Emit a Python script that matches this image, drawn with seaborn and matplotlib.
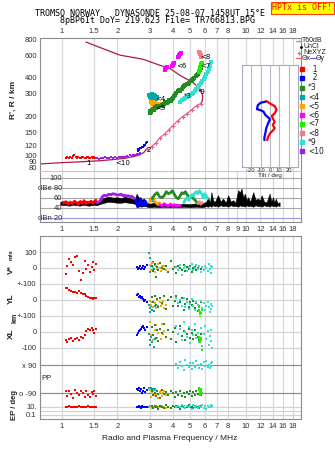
import numpy as np
import matplotlib
matplotlib.use("Agg")
import matplotlib.pyplot as plt
import seaborn as sns
from matplotlib.lines import Line2D
from matplotlib.ticker import NullLocator

# ---------------- data ----------------
freq_ticks_top = [1, 1.5, 2, 3, 4, 5, 6, 7, 8, 10, 12, 14, 16, 18]
freq_ticks_amp = [1, 1.5, 2, 3, 4, 5, 6, 7, 8, 9, 10, 12, 14, 16, 18]
height_ticks = [80, 90, 100, 120, 150, 200, 300, 400, 600, 800]

trace_names = ['1', '2', '*3', '<4', '<5', '<6', '<7', '<8', '*9', '<10']
trace_colors = ['#ff0000', '#0000ff', '#228b22', '#00a8a8', '#ffa500',
                '#ff00ff', '#22ee00', '#f08080', '#30e0d0', '#9a20e8']

# virtual-height traces (MHz, km)
t1_f = [1.05, 1.07, 1.09, 1.11, 1.13, 1.15, 1.17, 1.19, 1.21, 1.23, 1.25, 1.27,
        1.29, 1.31, 1.33, 1.35, 1.37, 1.39, 1.41, 1.43, 1.45, 1.47, 1.49, 1.51]
t1_h = [96, 97, 95, 98, 96, 99, 100, 98, 96, 97, 95, 96, 98, 97, 96, 95, 97, 98,
        96, 95, 97, 96, 98, 96]
t10_f = [1.53, 1.56, 1.6, 1.64, 1.68, 1.72, 1.76, 1.8, 1.85, 1.9, 1.95, 2.0, 2.05,
         2.1, 2.15, 2.2, 2.25, 2.3, 2.35, 2.4, 2.45, 2.5, 2.55, 2.6, 2.65]
t10_h = [95, 96, 94, 95, 96, 97, 95, 96, 97, 96, 97, 96, 98, 97, 98, 97, 99, 98,
         100, 99, 101, 100, 102, 103, 104]
t2_f = [2.58, 2.6, 2.63, 2.66, 2.69, 2.72, 2.75, 2.78, 2.81, 2.84, 2.87, 2.9]
t2_h = [109, 112, 111, 115, 114, 117, 116, 119, 121, 120, 125, 128]
t4_f = [2.98, 3.0, 3.02, 3.04, 3.06, 3.08, 3.1, 3.13, 3.16, 3.2, 3.24, 3.28]
t4_h = [292, 285, 296, 278, 288, 300, 270, 283, 295, 287, 276, 282]
t5_f = [3.04, 3.08, 3.12, 3.16, 3.2, 3.24, 3.28, 3.32, 3.36, 3.4, 3.44, 3.48]
t5_h = [258, 252, 260, 248, 255, 250, 246, 252, 244, 249, 245, 242]
t3_f = [3.0, 3.03, 3.06, 3.1, 3.14, 3.18, 3.22, 3.26, 3.3, 3.35, 3.4, 3.45, 3.5,
        3.55, 3.6, 3.66, 3.72, 3.78, 3.84, 3.9, 3.96, 4.02, 4.08, 4.14, 4.2, 4.27,
        4.34, 4.41, 4.48, 4.55, 4.62, 4.7, 4.78, 4.86, 4.94, 5.02, 5.1, 5.18, 5.26,
        5.34, 5.42, 5.5, 5.56, 5.62, 5.68, 5.74]
t3_h = [212, 222, 218, 226, 230, 224, 236, 232, 240, 236, 244, 240, 248, 244, 252,
        258, 255, 262, 268, 265, 272, 280, 288, 296, 305, 314, 322, 318, 330, 338,
        345, 352, 360, 356, 368, 375, 385, 392, 402, 410, 420, 432, 445, 460, 478, 505]
t6_f = [3.63, 3.66, 3.7, 3.74, 3.96, 4.0, 4.04, 4.08, 4.27, 4.31, 4.35, 4.4, 4.45]
t6_h = [460, 468, 476, 483, 492, 500, 508, 518, 580, 592, 605, 615, 622]
t7_f = [5.55, 5.58, 5.62, 5.66, 5.7, 5.74, 5.78]
t7_h = [442, 455, 468, 482, 496, 510, 525]
t8_f = [5.58, 5.62, 5.66, 5.7, 5.74]
t8_h = [640, 628, 612, 598, 585]
t9_f = [4.4, 4.5, 4.6, 4.7, 4.8, 4.9, 5.0, 5.1, 5.2, 5.3, 5.4, 5.5, 5.6, 5.7, 5.8,
        5.9, 6.0, 6.1, 6.2, 6.3, 6.4, 6.5]
t9_h = [262, 268, 272, 278, 282, 288, 292, 298, 305, 315, 326, 338, 350, 362, 375,
        390, 405, 425, 445, 468, 495, 530]

# true-height profile
prof_low_f = [0.76, 1.0, 1.3, 1.6, 1.9, 2.2, 2.45, 2.65, 2.8, 2.9]
prof_low_h = [86, 88, 89.5, 91, 93, 95, 98, 101, 106, 113]
prof_mid_f = [2.90, 3.08, 3.24, 3.41, 3.63, 3.81, 4.01, 4.27, 4.54, 4.78, 5.09, 5.42, 5.69]
prof_mid_h = [113, 117, 125, 137, 147, 158, 170, 186, 200, 211, 227, 244, 253]
prof_top_f = [5.69, 5.8, 5.83, 5.83, 5.62, 5.15, 4.38, 3.86, 3.41, 2.76, 2.07, 1.35]
prof_top_h = [253, 262, 280, 292, 331, 369, 419, 475, 501, 558, 600, 758]

# trace labels
lab_txt = ['1', '<10', '2', '<4', '<5', '*3', '<6', '<7', '<8', '*9']
lab_f = [1.40, 2.14, 2.97, 3.45, 3.45, 4.83, 4.45, 6.05, 6.05, 5.8]
lab_h = [88, 88, 110, 274, 232, 287, 492, 490, 582, 308]

# amplitude (dB)
unc_f = [0.98, 1.05, 1.1, 1.15, 1.2, 1.25, 1.3, 1.35, 1.4, 1.45, 1.5, 1.55, 1.6, 1.7,
         1.8, 1.9, 2.0, 2.1, 2.2, 2.3, 2.4, 2.5, 2.55, 2.6, 2.7, 2.8, 2.9, 3.0, 3.2,
         3.4, 3.6, 3.8, 4.0, 4.3, 4.6, 5.0, 5.4, 5.8, 6.1, 6.24, 6.4, 6.51, 6.65,
         6.79, 6.93, 7.07, 7.3, 7.53, 7.8, 8.02, 8.3, 8.54, 8.8, 9.1, 9.3, 9.49, 9.7,
         9.9, 10.1, 10.3, 10.6, 11.0, 11.3, 11.7, 12.0, 12.2, 12.6, 13.0, 13.2, 13.5,
         13.8, 14.1, 14.3, 14.6, 14.9, 15.3]
unc_hi = [52, 54, 50, 53, 51, 55, 52, 54, 50, 53, 55, 52, 56, 60, 62, 60, 61, 59, 62,
          60, 58, 57, 68, 62, 56, 58, 50, 48, 50, 47, 49, 46, 48, 46, 48, 47, 49, 48,
          52, 61, 50, 71, 55, 51, 58, 65, 52, 58, 50, 65, 52, 55, 50, 75, 70, 78, 60,
          68, 55, 61, 52, 71, 56, 58, 54, 65, 52, 51, 58, 68, 52, 61, 50, 58, 49, 51]
unc_lo = [46, 45, 44, 46, 45, 44, 46, 45, 44, 45, 46, 45, 47, 50, 52, 51, 50, 50, 51,
          50, 49, 48, 41, 44, 42, 44, 42, 41, 42, 41, 42, 41, 42, 41, 42, 41, 42, 41,
          43, 42, 44, 42, 45, 43, 44, 42, 45, 43, 44, 42, 45, 43, 44, 42, 45, 43, 44,
          42, 45, 43, 44, 42, 45, 43, 44, 42, 45, 43, 44, 42, 45, 43, 44, 42, 45, 43]
a1_f = [1.02, 1.05, 1.08, 1.11, 1.14, 1.17, 1.2, 1.23, 1.26, 1.29, 1.32, 1.35, 1.38,
        1.41, 1.44, 1.47, 1.5, 1.53]
a1_db = [49, 52, 47, 51, 48, 53, 50, 46, 52, 49, 54, 48, 51, 50, 53, 49, 52, 55]
a10_f = [1.55, 1.6, 1.63, 1.66, 1.7, 1.75, 1.8, 1.85, 1.9, 1.95, 2.0, 2.05, 2.1, 2.15,
         2.2, 2.25, 2.3, 2.35, 2.4, 2.45, 2.5]
a10_db = [50, 52, 56, 62, 65, 64, 67, 66, 68, 67, 65, 66, 67, 64, 65, 63, 64, 62, 63, 60, 58]
a2_f = [2.52, 2.56, 2.6, 2.64, 2.68, 2.72, 2.76, 2.8, 2.84, 2.88]
a2_db = [55, 48, 42, 52, 58, 45, 50, 44, 53, 47]
a4_f = [3.02, 3.06, 3.1, 3.14, 3.18]
a4_db = [55, 58, 54, 56, 52]
a5_f = [3.0, 3.05, 3.1, 3.15, 3.2, 3.25, 3.3, 3.35, 3.4]
a5_db = [52, 56, 60, 58, 54, 50, 48, 46, 50]
a6_f = [3.4, 3.5, 3.6, 3.7, 3.8, 3.9, 4.0, 4.1, 4.2, 4.3, 4.4]
a6_db = [46, 44, 48, 45, 43, 47, 44, 46, 43, 45, 44]
a3_f = [3.1, 3.2, 3.3, 3.4, 3.5, 3.6, 3.7, 3.8, 3.9, 4.0, 4.1, 4.2, 4.3, 4.4, 4.5, 4.6,
        4.7, 4.8, 4.9, 5.0, 5.1, 5.2, 5.3, 5.4]
a3_db = [58, 66, 70, 62, 60, 64, 72, 68, 70, 74, 66, 60, 58, 64, 70, 68, 72, 66, 62,
         60, 64, 58, 55, 52]
a8_f = [5.5, 5.6, 5.7, 5.8]
a8_db = [48, 52, 47, 50]
a9_f = [4.6, 4.7, 4.8, 4.9, 5.0, 5.1, 5.2, 5.3, 5.4, 5.5, 5.6, 5.7, 5.8, 5.9, 6.0, 6.1, 6.2]
a9_db = [50, 56, 60, 55, 62, 66, 64, 70, 72, 68, 74, 70, 66, 60, 68, 64, 58]

# tilt inset (deg, km)
tiltx_deg = [-4, 0, 5, 7, 5, 2, 3, 5, 3, 5, 3, 0, -2, -3]
tiltx_h = [344, 337, 329, 318, 308, 300, 293, 283, 274, 264, 257, 249, 239, 229]
tilty_deg = [-5, -10, -13, -14, -11, -7, -5, -2, 0, -2, -4, -5, -6, -6]
tilty_h = [342, 339, 332, 320, 318, 313, 303, 296, 290, 279, 264, 249, 237, 229]

# lower panels: V* (m/s), YL, XL (km), PP (deg), EP (deg)
r_f = [1.05, 1.07, 1.09, 1.12, 1.15, 1.18, 1.21, 1.24, 1.27, 1.3, 1.33, 1.36, 1.39,
       1.42, 1.45, 1.48, 1.5, 1.53]
r_v = [-37, 12, 56, 37, 19, 69, 75, -19, -75, -31, 44, -6, 19, -25, 6, 37, -12, 25]
r_yl = [72, 78, 62, 58, 50, 52, 46, 54, 44, 40, 38, 26, 18, 12, 15, 8, 14, 10]
r_xl = [-48, -60, -42, -38, -55, -44, -36, -50, -32, -40, -20, 4, 18, 10, 24, 12, -4, 20]
r_pp = [-80, -112, -75, -95, -120, -72, -88, -105, -78, -90, -115, -76, -100, -118,
        -82, -95, -74, -108]
r_ep = [12, 9, 14, 11, 8, 13, 10, 15, 9, 12, 11, 8, 14, 10, 13, 9, 12, 10]

b_f = [2.55, 2.6, 2.63, 2.66, 2.7, 2.73, 2.76, 2.8, 2.85, 2.9]
b_v = [4, -6, 2, 10, -4, 0, 12, -8, 6, 18]
b_yl = [34, 40, 20, 26, 12, 18, 6, -4, 2, -10]
b_xl = [-18, -6, 4, 12, 18, 30, 40, 24, 10, 34]
b_pp = [-62, -70, -58, -80, -66, -92, -74, -60, -85, -70]
b_ep = [12, 8, 15, 10, 7, 14, 9, 11, 13, 8]

g_f = [3.1, 3.15, 3.2, 3.25, 3.3, 3.35, 3.4, 3.5, 3.6, 3.7, 3.8, 3.9, 4.0, 4.1, 4.2,
       4.3, 4.4, 4.5, 4.6, 4.7, 4.8, 4.9, 5.0, 5.1, 5.2, 5.3, 5.4, 5.5, 5.6, 5.7]
g_v = [10, -20, 25, -56, 5, -12, 30, 0, -8, 12, -25, 44, -5, 8, -30, 15, 0, -10, 20,
       -18, 6, -4, 12, -22, 3, 8, -12, 0, 14, -6]
g_yl = [20, -10, 28, -30, 5, -45, 12, -20, 25, -55, 0, 18, -35, -8, 22, -40, -15, 10,
        -60, -25, 5, -45, -12, -30, -5, -50, -20, -70, -35, -10]
g_xl = [30, -20, 45, -40, 10, -55, 20, -5, 50, -30, 15, -45, 0, 25, -60, -15, 35, -25,
        5, -50, -10, 20, -35, -5, -45, 10, -20, -30, -55, -10]
g_pp = [-75, -100, -88, -110, -80, -95, -120, -72, -98, -85, -105, -78, -92, -115,
        -82, -100, -76, -108, -90, -118, -84, -96, -74, -112, -86, -102, -80, -94,
        -70, -106]
g_ep = [15, 6, 22, 9, 12, 4, 18, 10, 7, 25, 11, 5, 14, 8, 20, 9, 3, 16, 12, 6, 10, 24,
        8, 13, 5, 17, 9, 11, 7, 14]

tl_f = [2.98, 3.0, 3.03, 3.06, 3.09, 3.12, 3.16, 3.2]
tl_v = [94, 60, -25, 10, -10, 40, -5, 20]
tl_yl = [-31, -50, -75, -40, -60, -45, -70, -35]
tl_xl = [-10, -50, -81, -30, -65, -20, -95, -45]
tl_pp = [-58, -65, -71, -60, -68, -62, -70, -64]
tl_ep = [12, 15, 9, 11, 14, 10, 13, 8]

o_f = [3.0, 3.05, 3.1, 3.15, 3.2, 3.25, 3.3, 3.35, 3.4, 3.45, 3.5, 3.55, 3.6, 3.7]
o_v = [20, -15, 31, 5, -25, 12, -8, 25, 0, -20, 15, -5, 10, -12]
o_yl = [-5, -30, -10, -45, -20, -50, 0, -35, -15, -40, -25, -8, -48, -30]
o_xl = [62, -20, 30, -50, 10, 45, -35, -5, 20, -45, 50, -15, 5, -30]
o_pp = [-72, -115, -90, -80, -105, -70, -95, -120, -85, -75, -110, -88, -78, -100]
o_ep = [10, 14, 7, 12, 9, 16, 11, 8, 13, 10, 15, 9, 12, 7]

l_f = [5.55, 5.58, 5.61, 5.64, 5.67, 5.7, 5.74, 5.78]
l_yl = [-45, -60, -75, -90, -105, -110, -80, -65]
l_xl = [-30, -45, -60, -40, -55, -35, -50, -112]
l_pp = [-58, -70, -85, -95, -103, -75, -65, -90]

c_f = [4.2, 4.3, 4.4, 4.5, 4.6, 4.7, 4.8, 4.9, 5.0, 5.1, 5.2, 5.3, 5.4, 5.5, 5.6, 5.7,
       5.8, 5.9, 6.0, 6.1, 6.2, 6.3, 6.4, 6.45, 6.5, 6.55]
c_v = [5, -10, 20, -44, 0, 12, -20, 8, -5, 25, -15, 3, 18, -8, 10, -25, 6, -12, 15, 0,
       -18, 22, -6, 10, -30, 4]
c_yl = [10, -20, 0, -35, 15, -45, -10, -55, -25, 5, -40, -60, -15, -30, -70, -5, -50,
        -20, -65, -35, -10, -45, -75, -25, -55, -40]
c_xl = [40, -10, 20, -50, 60, 0, -30, 30, -70, 10, -20, 50, -40, -5, -60, 25, -90,
        -15, 35, -45, 5, -80, -25, 15, -55, -100]
c_pp = [95, 70, 110, 85, 60, 120, 90, 75, 105, 65, 100, 80, 115, 88, 72, 98, 62, 108,
        84, 118, 76, 92, 68, 102, 86, 110]
c_ep = [12, 20, 8, 28, 15, 5, 22, 10, 18, 3, 25, 9, 14, 6, 19, 11, 30, 7, 16, 4, 21,
        12, 8, 26, 10, 15]

# ---------------- style ----------------
sns.set_theme(style="white")
plt.rcParams['font.family'] = ['Liberation Sans', 'DejaVu Sans']
plt.rcParams['axes.linewidth'] = 0.8

W, H = 335, 451
fig = plt.figure(figsize=(W / 100, H / 100), dpi=100)
fig.patch.set_facecolor('white')


def fx(x):
    return x / W


def fy(y):
    return 1 - y / H


def fax(left, top, right, bottom):
    return fig.add_axes([left / W, 1 - bottom / H, (right - left) / W, (bottom - top) / H])


FRAME = '#8c8c8c'
VGRID = '#d8d8e0'
TICKC = '#303030'
TFS = 5.5
C = dict(zip(trace_names, trace_colors))
MAROON = '#b0184a'
PINK = '#e8608a'


def freq_axis(ax, ticks, show):
    ax.set_xscale('log')
    ax.set_xlim(0.76, 20)
    ax.set_xticks(ticks)
    ax.set_xticklabels([('%g' % t) if show else '' for t in ticks])
    ax.xaxis.set_minor_locator(NullLocator())
    for t in ticks:
        ax.axvline(t, color=VGRID, lw=0.9, zorder=0)
    ax.tick_params(axis='x', length=0, labelsize=TFS, colors=TICKC, pad=2)
    ax.set_xlabel('')
    ax.set_ylabel('')
    for s in ax.spines.values():
        s.set_color(FRAME)


def scat(ax, x, y, color, s=3.0, z=3):
    sns.scatterplot(x=x, y=y, ax=ax, color=color, marker='s', s=s, linewidth=0,
                    legend=False, zorder=z)


# ---------------- panel 1: heights ----------------
ax_h = fax(40, 38, 301, 171)
ax_h.set_yscale('log')
freq_axis(ax_h, freq_ticks_top, True)
ax_h.xaxis.tick_top()
ax_h.tick_params(axis='x', top=False, labeltop=True, bottom=False, labelbottom=False)
ax_h.set_ylim(75.8, 815)
ax_h.set_yticks(height_ticks)
ax_h.set_yticklabels([str(t) for t in height_ticks])
ax_h.yaxis.set_minor_locator(NullLocator())
ax_h.tick_params(axis='y', length=0, labelsize=TFS, colors=TICKC, pad=2)
ax_h.spines['bottom'].set_visible(False)

sns.lineplot(x=prof_low_f, y=prof_low_h, ax=ax_h, color=MAROON, lw=0.9, sort=False,
             estimator=None, zorder=2)
sns.lineplot(x=prof_top_f, y=prof_top_h, ax=ax_h, color=MAROON, lw=0.9, sort=False,
             estimator=None, zorder=2)
sns.lineplot(x=prof_mid_f, y=prof_mid_h, ax=ax_h, color=PINK, lw=0.9, sort=False,
             estimator=None, marker='+', markersize=3.5, markeredgewidth=0.8,
             markeredgecolor=PINK, zorder=2)

scat(ax_h, t1_f, t1_h, C['1'], s=3.5)
scat(ax_h, t10_f, t10_h, C['<10'], s=3.5)
scat(ax_h, t2_f, t2_h, C['2'], s=4)
scat(ax_h, t4_f, t4_h, C['<4'], s=5)
scat(ax_h, t5_f, t5_h, C['<5'], s=5)
scat(ax_h, t3_f, t3_h, C['*3'], s=9)
scat(ax_h, t9_f, t9_h, C['*9'], s=6)
scat(ax_h, t6_f, t6_h, C['<6'], s=5)
scat(ax_h, t7_f, t7_h, C['<7'], s=7)
scat(ax_h, t8_f, t8_h, C['<8'], s=7)
for t, f, h in zip(lab_txt, lab_f, lab_h):
    ax_h.text(f, h, t, fontsize=5, color='black', ha='center', va='center', zorder=5,
              family='DejaVu Sans')

# ---------------- panel 2: amplitude ----------------
ax_a = fax(40, 171, 301, 222)
freq_axis(ax_a, freq_ticks_amp, True)
ax_a.set_ylim(11.4, 113.4)
ax_a.spines['top'].set_color('#c8c8c8')
for v in [40, 60, 80, 100]:
    ax_a.axhline(v, color='#a8a8a8', lw=0.8, zorder=0)
ax_a.axhline(20, color='#9898e8', lw=0.8, zorder=0)
ax_a.fill_between(unc_f, unc_lo, unc_hi, color='black', lw=0.4, zorder=2)
for f, d, k in [(a1_f, a1_db, '1'), (a10_f, a10_db, '<10'), (a2_f, a2_db, '2'),
                (a4_f, a4_db, '<4'), (a5_f, a5_db, '<5'), (a6_f, a6_db, '<6'),
                (a3_f, a3_db, '*3'), (a8_f, a8_db, '<8'), (a9_f, a9_db, '*9')]:
    sns.lineplot(x=f, y=d, ax=ax_a, color=C[k], lw=2.0, sort=False, estimator=None,
                 zorder=3)
ax_a.set_yticks([20, 40, 60, 80, 100])
ax_a.set_yticklabels(['dBn 20', '40', '60', 'dBe 80', '100'])
ax_a.tick_params(axis='y', direction='in', length=0, pad=-15.8, labelsize=TFS,
                 colors=TICKC)
for lbl in ax_a.get_yticklabels():
    lbl.set_horizontalalignment('right')
    lbl.set_zorder(6)
ax_a.tick_params(axis='x', pad=3)
ax_a.set_xlabel('')
ax_a.set_ylabel('')

# ---------------- lower panels ----------------
ax_v = fax(40, 236, 301, 284)
ax_yl = fax(40, 284, 301, 316)
ax_xl = fax(40, 316, 301, 352)
ax_pp = fax(40, 352, 301, 400)
ax_ep = fax(40, 400, 301, 419)
lower = [ax_v, ax_yl, ax_xl, ax_pp, ax_ep]
for i, ax in enumerate(lower):
    freq_axis(ax, freq_ticks_top, ax is ax_ep)
    ax.set_facecolor('none')
    if i > 0:
        ax.spines['top'].set_visible(False)
    if i < 4:
        ax.spines['bottom'].set_visible(False)
    ax.yaxis.set_minor_locator(NullLocator())
    ax.tick_params(axis='y', length=0, labelsize=TFS, colors=TICKC, pad=2.5)
ax_ep.tick_params(axis='x', pad=3)

LG = '#d2d2d2'
ax_v.set_ylim(-100, 200)
ax_v.set_yticks([100, 0])
ax_v.set_yticklabels(['100', '0'])
ax_yl.set_ylim(-100, 100)
ax_yl.set_yticks([100, 0])
ax_yl.set_yticklabels(['+-100', '0'])
ax_xl.set_ylim(-125, 100)
ax_xl.set_yticks([100, 0, -100])
ax_xl.set_yticklabels(['+-100', '0', '-100'])
ax_pp.set_ylim(-135, 173.6)
ax_pp.set_yticks([90, -90])
ax_pp.set_yticklabels(['x 90', 'o -90'])
ax_ep.set_yscale('log')
ax_ep.set_ylim(0.01, 562)
ax_ep.set_yticks([10, 1, 0.1])
ax_ep.set_yticklabels(['10.', '', '0.1'])
ax_ep.yaxis.set_minor_locator(NullLocator())
for ax, vals in [(ax_v, [100, 0, -100]), (ax_yl, [0, -100]), (ax_xl, [0, -100]),
                 (ax_ep, [10, 1, 0.1])]:
    for v in vals:
        ax.axhline(v, color=LG, lw=0.9, zorder=0, clip_on=False)
for v in [90, -90]:
    ax_pp.axhline(v, color='#909090', lw=0.9, zorder=0)

groups = [
    (r_f, dict(v=r_v, yl=r_yl, xl=r_xl, pp=r_pp, ep=r_ep), C['1']),
    (b_f, dict(v=b_v, yl=b_yl, xl=b_xl, pp=b_pp, ep=b_ep), C['2']),
    (tl_f, dict(v=tl_v, yl=tl_yl, xl=tl_xl, pp=tl_pp, ep=tl_ep), C['<4']),
    (o_f, dict(v=o_v, yl=o_yl, xl=o_xl, pp=o_pp, ep=o_ep), C['<5']),
    (g_f, dict(v=g_v, yl=g_yl, xl=g_xl, pp=g_pp, ep=g_ep), C['*3']),
    (c_f, dict(v=c_v, yl=c_yl, xl=c_xl, pp=c_pp, ep=c_ep), C['*9']),
    (l_f, dict(yl=l_yl, xl=l_xl, pp=l_pp), C['<7']),
]
axmap = dict(v=ax_v, yl=ax_yl, xl=ax_xl, pp=ax_pp, ep=ax_ep)
for f, d, col in groups:
    for key, vals in d.items():
        scat(axmap[key], f, vals, col, s=3)

for ax in lower:
    ax.set_xlabel('')
    ax.set_ylabel('')

# ---------------- tilt inset ----------------
ax_t = fax(242, 65, 298, 167)
ax_t.set_facecolor('white')
ax_t.set_xlim(-30, 30)
ax_t.set_ylim(150, 450)
for v in [-20, -10, 0, 10, 20]:
    ax_t.axvline(v, color='#b8b8c8', lw=0.8, zorder=0)
sns.lineplot(x=tiltx_deg, y=tiltx_h, ax=ax_t, color='#ff0000', lw=1.6, sort=False,
             estimator=None)
sns.lineplot(x=tilty_deg, y=tilty_h, ax=ax_t, color='#0000ff', lw=1.6, sort=False,
             estimator=None)
ax_t.set_xticks([-20, -10, 0, 10, 20])
ax_t.set_xticklabels(['-20', '-10', '0', '10', '20'])
ax_t.set_yticks([])
ax_t.tick_params(axis='x', length=0, labelsize=4.2, pad=1, colors=TICKC)
ax_t.set_xlabel('Tilt / deg', fontsize=4.5, labelpad=0, color=TICKC)
ax_t.set_ylabel('')
for s in ax_t.spines.values():
    s.set_color('#a8a8c0')

# ---------------- texts ----------------
mono = 'DejaVu Sans Mono'
fig.text(fx(150), fy(13), 'TROMSO NORWAY   DYNASONDE 25-08-07 1458UT 15°E',
         ha='center', va='center', family=mono, fontsize=6, color='black')
fig.text(fx(157), fy(20.5), '8pBP6It DoY= 219.623 File= TR766813.BPG',
         ha='center', va='center', family=mono, fontsize=6, color='black')
fig.text(fx(302.5), fy(8), 'HPTx is OFF!', ha='center', va='center', family=mono,
         fontsize=6, color='red',
         bbox=dict(facecolor='yellow', edgecolor='#ff4000', pad=1.2, lw=0.8))

fig.text(fx(13), fy(100), "R', R / km", rotation=90, ha='center', va='center',
         fontsize=6, fontweight='bold', color='#202020')
fig.text(fx(11), fy(270), 'V*', rotation=90, ha='center', va='center', fontsize=6,
         fontweight='bold', color='#202020')
fig.text(fx(11), fy(255), 'm/s', rotation=90, ha='center', va='center', fontsize=4.5,
         fontweight='bold', color='#202020')
fig.text(fx(11), fy(299), 'YL', rotation=90, ha='center', va='center', fontsize=6,
         fontweight='bold', color='#202020')
fig.text(fx(15), fy(318), 'km', rotation=90, ha='center', va='center', fontsize=5,
         fontweight='bold', color='#202020')
fig.text(fx(11), fy(334), 'XL', rotation=90, ha='center', va='center', fontsize=6,
         fontweight='bold', color='#202020')
fig.text(fx(47), fy(379), 'PP', ha='center', va='center', fontsize=5.5,
         color='#202020')
fig.text(fx(14), fy(405), 'EP / deg', rotation=90, ha='center', va='center',
         fontsize=5.5, fontweight='bold', color='#202020')
fig.text(fx(170), fy(439), 'Radio and Plasma Frequency / MHz', ha='center',
         va='center', fontsize=6, color='#202020')

# ---------------- legend ----------------
LFS = 5
fig.add_artist(Line2D([fx(296), fx(300.5)], [fy(41), fy(41)], color='#a0a0a0', lw=1))
fig.text(fx(301.5), fy(41), 'T60dB', fontsize=LFS, va='center', color='#202020')
fig.add_artist(Line2D([fx(301)], [fy(47)], marker='.', ms=2, color='black', lw=0))
fig.text(fx(304), fy(47), 'UnCl', fontsize=LFS, va='center', color='#202020')
fig.add_artist(Line2D([fx(299)], [fy(52.5)], marker='+', ms=3.5, mew=0.8, color=PINK,
                      lw=0))
fig.text(fx(303), fy(52.5), 'NeXYZ', fontsize=LFS, va='center', color='#202020')
fig.add_artist(Line2D([fx(296), fx(301)], [fy(58), fy(58)], color='#ff5050', lw=0.8))
fig.text(fx(301.5), fy(58), 'Θx', fontsize=LFS, va='center', color='#202020')
fig.add_artist(Line2D([fx(310), fx(315.5)], [fy(58), fy(58)], color='#6060ff', lw=0.8))
fig.text(fx(316), fy(58), 'Θy', fontsize=LFS, va='center', color='#202020')
leg_y = [69, 78, 88, 97, 106, 115, 123.5, 133, 142, 151]
for name, col, y in zip(trace_names, trace_colors, leg_y):
    fig.add_artist(Line2D([fx(302.3)], [fy(y)], marker='s', ms=2.4, color=col, lw=0))
    lab = name if len(name) > 1 else '  ' + name
    fig.text(fx(308), fy(y), lab, fontsize=5.5, va='center', color='#202020',
             family='DejaVu Sans')

fig.savefig('out.png', dpi=100, facecolor='white')
